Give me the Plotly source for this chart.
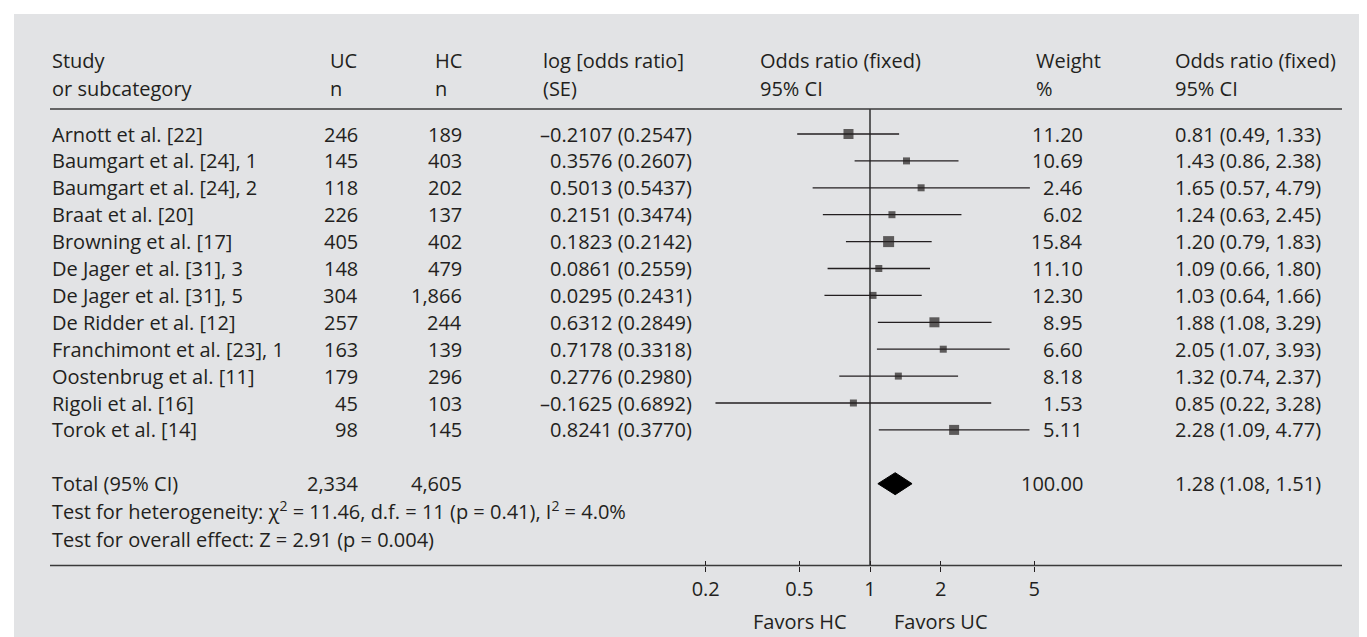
import plotly.graph_objects as go

# ---------------- data ----------------
studies = ["Arnott et al. [22]", "Baumgart et al. [24], 1", "Baumgart et al. [24], 2",
           "Braat et al. [20]", "Browning et al. [17]", "De Jager et al. [31], 3",
           "De Jager et al. [31], 5", "De Ridder et al. [12]", "Franchimont et al. [23], 1",
           "Oostenbrug et al. [11]", "Rigoli et al. [16]", "Torok et al. [14]"]
uc_n = [246, 145, 118, 226, 405, 148, 304, 257, 163, 179, 45, 98]
hc_n = [189, 403, 202, 137, 402, 479, 1866, 244, 139, 296, 103, 145]
log_or = [-0.2107, 0.3576, 0.5013, 0.2151, 0.1823, 0.0861, 0.0295, 0.6312, 0.7178, 0.2776, -0.1625, 0.8241]
log_se = [0.2547, 0.2607, 0.5437, 0.3474, 0.2142, 0.2559, 0.2431, 0.2849, 0.3318, 0.2980, 0.6892, 0.3770]
weight = [11.20, 10.69, 2.46, 6.02, 15.84, 11.10, 12.30, 8.95, 6.60, 8.18, 1.53, 5.11]
or_val = [0.81, 1.43, 1.65, 1.24, 1.20, 1.09, 1.03, 1.88, 2.05, 1.32, 0.85, 2.28]
ci_lo = [0.49, 0.86, 0.57, 0.63, 0.79, 0.66, 0.64, 1.08, 1.07, 0.74, 0.22, 1.09]
ci_hi = [1.33, 2.38, 4.79, 2.45, 1.83, 1.80, 1.66, 3.29, 3.93, 2.37, 3.28, 4.77]

total_uc = 2334
total_hc = 4605
total_weight = 100.00
total_or = 1.28
total_lo = 1.08
total_hi = 1.51

heterogeneity_text = "Test for heterogeneity: χ<sup>2</sup> = 11.46, d.f. = 11 (p = 0.41), I<sup>2</sup> = 4.0%"
overall_text = "Test for overall effect: Z = 2.91 (p = 0.004)"

tick_vals = [0.2, 0.5, 1, 2, 5]
tick_text = ["0.2", "0.5", "1", "2", "5"]

# ---------------- styles ----------------
W, H = 1367, 637
BG = "#e2e3e5"
INK = "#231f20"
FONT = "Open Sans"
FS = 20
sq_px = [10, 7, 7, 7, 11, 7, 7, 10, 7, 7, 7, 10]

L, T = 6, 6                      # plot area = grey panel
PW, PH = W - L, H - T
X1_PX, PX_DEC = 862, 235.0       # pixel of OR=1, pixels per decade
ROW0_PX, ROW_PX = 126, 26.9      # pixel of first study row, row pitch


def xp(px):
    return (px - L) / PW


def fmt_signed(v):
    s = f"{v:.4f}"
    return s.replace("-", "\u2013")


fig = go.Figure()

n = len(studies)
rows = list(range(n))
total_row = 13
het_row = 14.0
ovr_row = 15.06
hdr1, hdr2 = -2.75, -1.71
hline_row = -0.93
bline_row = (557.5 - ROW0_PX) / ROW_PX
favors_row = (613 - ROW0_PX) / ROW_PX

# vertical line of no effect
fig.add_trace(go.Scatter(x=[1, 1], y=[hline_row, bline_row], mode="lines",
                         line=dict(color="#3a3a3a", width=1.6), hoverinfo="skip", showlegend=False))

# confidence intervals
cx, cy = [], []
for i in rows:
    cx += [ci_lo[i], ci_hi[i], None]
    cy += [i, i, None]
fig.add_trace(go.Scatter(x=cx, y=cy, mode="lines", line=dict(color=INK, width=1.3),
                         hoverinfo="skip", showlegend=False))

# point estimates
fig.add_trace(go.Scatter(x=or_val, y=rows, mode="markers",
                         marker=dict(symbol="square", size=sq_px, color=INK, line=dict(width=0)),
                         showlegend=False))

# pooled diamond
dh = 11 / ROW_PX
fig.add_trace(go.Scatter(x=[total_lo, total_or, total_hi, total_or, total_lo],
                         y=[total_row, total_row - dh, total_row, total_row + dh, total_row],
                         mode="lines", fill="toself", fillcolor="#000000",
                         line=dict(color="#000000", width=1), showlegend=False))

# invisible trace for the tick overlay axis
fig.add_trace(go.Scatter(x=[1], y=[0], xaxis="x2", mode="markers",
                         marker=dict(opacity=0), showlegend=False, hoverinfo="skip"))


def txt(px, row, s, anchor="left"):
    fig.add_annotation(x=xp(px), xref="paper", y=row, yref="y", text=s, showarrow=False,
                       xanchor=anchor, yanchor="middle",
                       font=dict(family=FONT, size=FS, color=INK))


# header
txt(42, hdr1, "Study"); txt(42, hdr2, "or subcategory")
txt(320, hdr1, "UC"); txt(320, hdr2, "n")
txt(425, hdr1, "HC"); txt(425, hdr2, "n")
txt(533, hdr1, "log [odds ratio]"); txt(533, hdr2, "(SE)")
txt(750, hdr1, "Odds ratio (fixed)"); txt(750, hdr2, "95% CI")
txt(1026, hdr1, "Weight"); txt(1026, hdr2, "%")
txt(1165, hdr1, "Odds ratio (fixed)"); txt(1165, hdr2, "95% CI")

# study rows
for i in rows:
    txt(42, i, studies[i])
    txt(352, i, f"{uc_n[i]:,}", "right")
    txt(456, i, f"{hc_n[i]:,}", "right")
    txt(686, i, f"{fmt_signed(log_or[i])} ({log_se[i]:.4f})", "right")
    txt(1077, i, f"{weight[i]:.2f}", "right")
    txt(1165, i, f"{or_val[i]:.2f} ({ci_lo[i]:.2f}, {ci_hi[i]:.2f})")

# total
txt(42, total_row, "Total (95% CI)")
txt(352, total_row, f"{total_uc:,}", "right")
txt(456, total_row, f"{total_hc:,}", "right")
txt(1077, total_row, f"{total_weight:.2f}", "right")
txt(1165, total_row, f"{total_or:.2f} ({total_lo:.2f}, {total_hi:.2f})")
txt(42, het_row, heterogeneity_text)
txt(42, ovr_row, overall_text)

# favors labels
txt(792, favors_row, "Favors HC", "center")
txt(933, favors_row, "Favors UC", "center")

# separator lines
for r in (hline_row, bline_row):
    fig.add_shape(type="line", xref="paper", yref="y", x0=xp(42), x1=xp(1334), y0=r, y1=r,
                  line=dict(color="#3a3a3a", width=1.6))

xr = [(L - X1_PX) / PX_DEC, (W - X1_PX) / PX_DEC]
ax_pos = (H - 557.5) / PH
yr = [(H - ROW0_PX) / ROW_PX, (T - ROW0_PX) / ROW_PX]

common = dict(type="log", range=xr, showgrid=False, zeroline=False, showline=False,
              tickvals=tick_vals, ticktext=tick_text, anchor="free", position=ax_pos,
              tickcolor=INK, tickwidth=1.2, ticklen=5)

fig.update_layout(
    width=W, height=H,
    margin=dict(l=L, r=0, t=T, b=0, pad=0),
    paper_bgcolor="white", plot_bgcolor=BG,
    xaxis=dict(**common, ticks="outside",
               tickfont=dict(family=FONT, size=FS, color=INK)),
    xaxis2=dict(**common, ticks="inside", overlaying="x", showticklabels=False),
    yaxis=dict(range=yr, visible=False, showgrid=False, zeroline=False),
    showlegend=False,
    font=dict(family=FONT, size=FS, color=INK),
)

fig.write_html("out.html")
